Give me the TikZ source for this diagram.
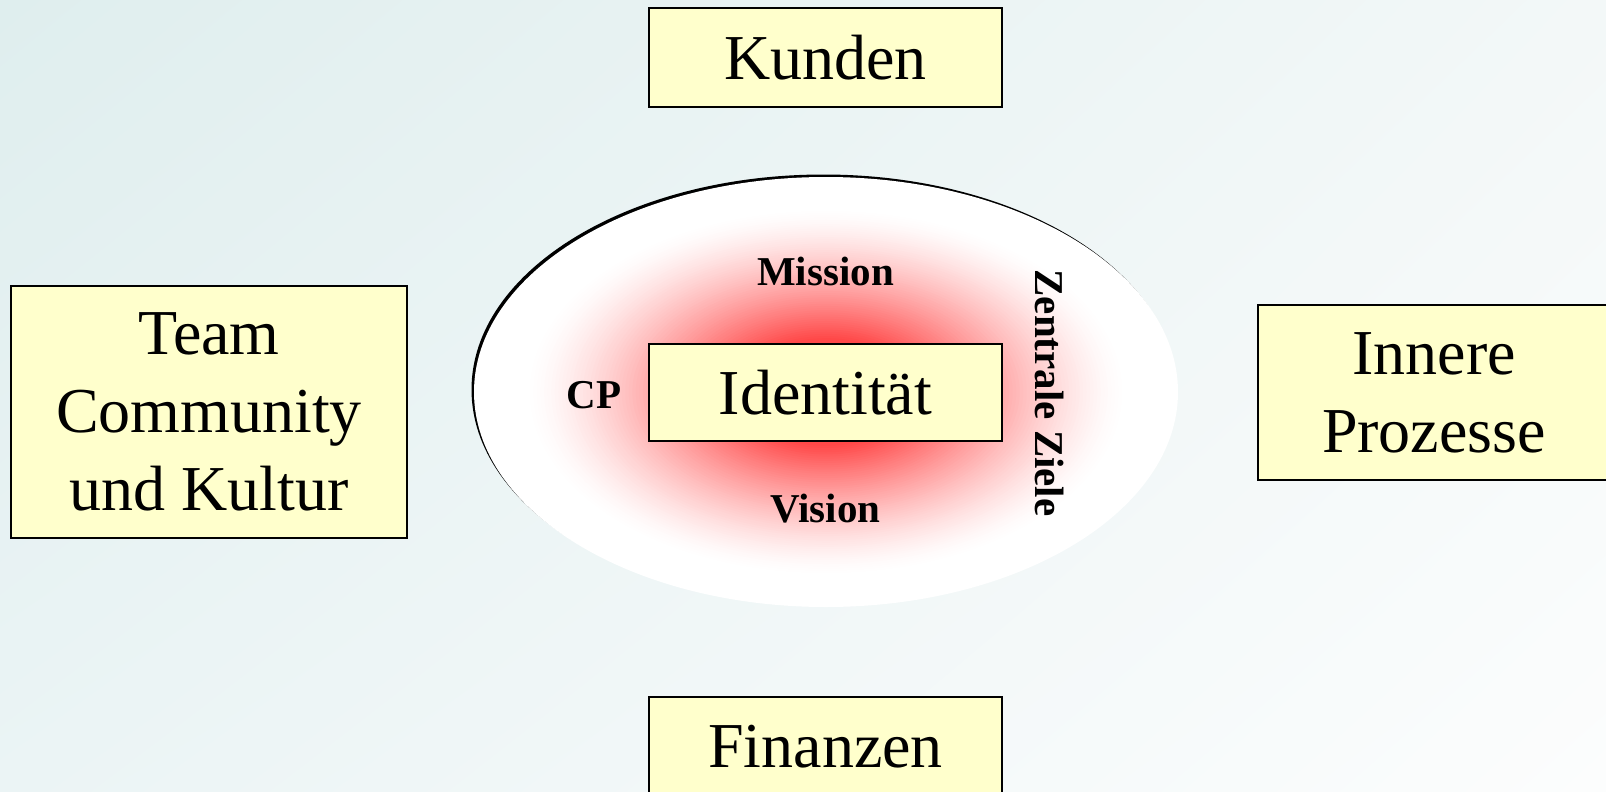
\documentclass[tikz,border=0pt]{standalone}
\usepackage{fontspec}
\setmainfont{Liberation Serif}
\usetikzlibrary{positioning, shadings}

\definecolor{feldgelb}{HTML}{FFFFCC}
\definecolor{grundol}{HTML}{DFEEEE}
\definecolor{grundor}{HTML}{F3F8F8}
\definecolor{grundul}{HTML}{EBF4F5}
\definecolor{grundur}{HTML}{FCFDFD}

\tikzset{
  feld/.style={draw=black, line width=2pt, fill=feldgelb, inner sep=0pt,
    align=center, font=\fontsize{64}{78}\selectfont},
  fett/.style={inner sep=0pt, font=\fontsize{41}{49}\selectfont\bfseries},
}

\begin{document}
\begin{tikzpicture}[x=1pt, y=-1pt]

\useasboundingbox (0,0) rectangle (1606,792);
\clip (0,0) rectangle (1606,792);
\shade[upper left=grundol, upper right=grundor, lower left=grundul, lower right=grundur]
    (0,0) rectangle (1606,792);

% Kern mit rotem Schein
\fill[black] (823.5,389.5) ellipse [x radius=352, y radius=215];
\fill[white] (826,392) ellipse [x radius=352, y radius=215];
\foreach \k in {0,...,59} {
    \pgfmathsetmacro\r{0.84-0.01*\k}
    \pgfmathsetmacro\p{72*(1-(\r-0.25)/0.6)^1.4}
    \fill[red!\p!white] (826,392) ellipse [x radius=352*\r, y radius=215*\r];
}

\node[feld, minimum width=353, minimum height=97] (identitaet) at (825.5,392.5) {Identität};
\node[fett] (mission) at (825.5,271) {Mission};
\node[fett] (vision) at (825.5,509) {Vision};
\node[fett] (cp) at (594,395) {CP};
\node[fett, rotate=-90] (ziele) at (1050,393) {Zentrale Ziele};

% Perspektiven
\node[feld, minimum width=353, minimum height=99] (kunden) at (825.5,57.5) {Kunden};
\node[feld, minimum width=353, minimum height=99] (finanzen) at (825.5,746.5) {Finanzen};
\node[feld, minimum width=396, minimum height=252] (team) at (209,412) {Team\\Community\\und Kultur};
\node[feld, minimum width=352, minimum height=175] (prozesse) at (1434,392.5) {Innere\\Prozesse};

\end{tikzpicture}
\end{document}
